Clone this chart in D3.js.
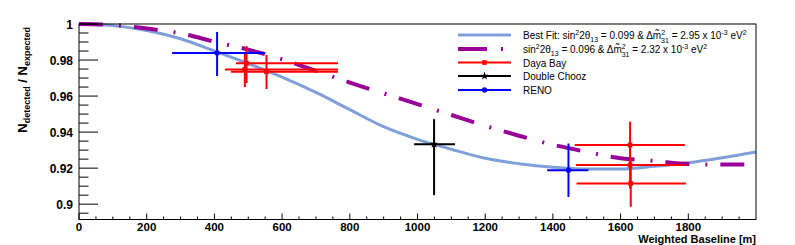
<!DOCTYPE html>
<html>
<head>
<meta charset="utf-8">
<script src="https://cdn.jsdelivr.net/npm/d3@7"></script>
<style>
  body { margin: 0; background: #fff; }
  svg { font-family: "Liberation Sans", Arial, sans-serif; }
</style>
</head>
<body>
<svg id="chart" width="795" height="245"></svg>
<script>
// Curves (baseline in m, ratio)
const curveBaseline = [0, 100, 200, 300, 400, 500, 600, 700, 800, 900, 1000,
  1100, 1200, 1300, 1400, 1500, 1600, 1700, 1800, 1900, 2000];
const bestFitRatio = [1.0, 0.9991, 0.9964, 0.9918, 0.985, 0.978, 0.9705, 0.962,
  0.9525, 0.943, 0.936, 0.9305, 0.9255, 0.9225, 0.9205, 0.9195, 0.9195, 0.921,
  0.923, 0.9258, 0.929];
const altFitRatio = [1.0, 0.9995, 0.9975, 0.9948, 0.9902, 0.9858, 0.9804, 0.974,
  0.9675, 0.9615, 0.9555, 0.9495, 0.9435, 0.938, 0.933, 0.929, 0.9255, 0.924,
  0.9223, 0.922, 0.922];

// Daya Bay
const dybBaseline = [495, 490, 554, 1628, 1628, 1630];
const dybBaselineLo = [464, 431, 449, 1465, 1468, 1470];
const dybBaselineHi = [765, 765, 765, 1790, 1790, 1793];
const dybRatio = [0.9782, 0.9748, 0.9735, 0.9328, 0.9217, 0.9115];
const dybRatioLo = [0.9672, 0.965, 0.9639, 0.9198, 0.9087, 0.8985];
const dybRatioHi = [0.9878, 0.9844, 0.9828, 0.9458, 0.9347, 0.9245];

// Double Chooz
const dcBaseline = [1049];
const dcBaselineLo = [990];
const dcBaselineHi = [1111];
const dcRatio = [0.9333];
const dcRatioLo = [0.905];
const dcRatioHi = [0.9472];

// RENO
const renoBaseline = [408, 1446];
const renoBaselineLo = [275, 1383];
const renoBaselineHi = [550, 1505];
const renoRatio = [0.9839, 0.9189];
const renoRatioLo = [0.9711, 0.904];
const renoRatioHi = [0.9956, 0.9337];

const xTicks = [0, 200, 400, 600, 800, 1000, 1200, 1400, 1600, 1800];
const yTicks = [0.9, 0.92, 0.94, 0.96, 0.98, 1];

const svg = d3.select('#chart');
const plot = {left: 79, right: 756, top: 24, bottom: 219.5};

const x = d3.scaleLinear().domain([0, 2000]).range([plot.left, plot.right]);
const y = d3.scaleLinear().domain([0.8915, 1]).range([plot.bottom, plot.top]);

const colors = {
  fit: '#7f9fdb',
  alt: '#990099',
  dyb: '#ff0000',
  dc: '#000000',
  reno: '#0000ff',
};

// Clip for curves
svg.append('clipPath').attr('id', 'clip')
  .append('rect')
  .attr('x', plot.left).attr('y', plot.top - 2)
  .attr('width', plot.right - plot.left).attr('height', plot.bottom - plot.top + 2);

const line = d3.line()
  .x((d) => x(d[0]))
  .y((d) => y(d[1]))
  .curve(d3.curveMonotoneX);

const curves = svg.append('g').attr('clip-path', 'url(#clip)');
curves.append('path')
  .datum(d3.zip(curveBaseline, bestFitRatio))
  .attr('d', line)
  .attr('fill', 'none')
  .attr('stroke', colors.fit)
  .attr('stroke-width', 3);

curves.append('path')
  .datum(d3.zip(curveBaseline, altFitRatio))
  .attr('d', line)
  .attr('fill', 'none')
  .attr('stroke', colors.alt)
  .attr('stroke-width', 4)
  .attr('stroke-dasharray', '24,16,2,13');

// Error bars
function drawPoints(color, bl, blLo, blHi, r, rLo, rHi, marker) {
  const g = svg.append('g');
  const pts = bl.map((d, i) => ({l: d, lLo: blLo[i], lHi: blHi[i], r: r[i], rLo: rLo[i], rHi: rHi[i]}));
  g.selectAll('.h').data(pts).enter().append('line')
    .attr('x1', (d) => x(d.lLo)).attr('x2', (d) => x(d.lHi))
    .attr('y1', (d) => y(d.r)).attr('y2', (d) => y(d.r))
    .attr('stroke', color).attr('stroke-width', 2);
  g.selectAll('.v').data(pts).enter().append('line')
    .attr('x1', (d) => x(d.l)).attr('x2', (d) => x(d.l))
    .attr('y1', (d) => y(d.rLo)).attr('y2', (d) => y(d.rHi))
    .attr('stroke', color).attr('stroke-width', 2);
  g.selectAll('.m').data(pts).enter().append('path')
    .attr('transform', (d) => `translate(${x(d.l)},${y(d.r)})`)
    .attr('d', marker)
    .attr('fill', color);
}

const squareMarker = d3.symbol().type(d3.symbolSquare).size(22)();
const circleMarker = d3.symbol().type(d3.symbolCircle).size(22)();
const starMarker = d3.symbol().type(d3.symbolStar).size(22)();

drawPoints(colors.dyb, dybBaseline, dybBaselineLo, dybBaselineHi, dybRatio, dybRatioLo, dybRatioHi, squareMarker);
drawPoints(colors.dc, dcBaseline, dcBaselineLo, dcBaselineHi, dcRatio, dcRatioLo, dcRatioHi, starMarker);
drawPoints(colors.reno, renoBaseline, renoBaselineLo, renoBaselineHi, renoRatio, renoRatioLo, renoRatioHi, circleMarker);

// Frame
svg.append('rect')
  .attr('x', plot.left).attr('y', plot.top)
  .attr('width', plot.right - plot.left).attr('height', plot.bottom - plot.top)
  .attr('fill', 'none').attr('stroke', '#000').attr('stroke-width', 1);

// Axes (ticks inward, ROOT style)
const xAxis = svg.append('g').attr('transform', `translate(0,${plot.bottom})`);
xAxis.selectAll('.minor').data(d3.range(0, 2000, 50)).enter().append('line')
  .attr('x1', (d) => x(d)).attr('x2', (d) => x(d))
  .attr('y1', 0).attr('y2', (d) => (d % 200 === 0 ? -6 : -3))
  .attr('stroke', '#000');
xAxis.selectAll('text').data(xTicks).enter().append('text')
  .attr('x', (d) => x(d)).attr('y', 11.5)
  .attr('text-anchor', 'middle')
  .attr('font-size', 11.5).attr('font-weight', 'bold')
  .text((d) => d);

const yAxis = svg.append('g').attr('transform', `translate(${plot.left},0)`);
yAxis.selectAll('.minor').data(d3.range(0, 22)).enter().append('line')
  .attr('y1', (i) => y(0.895 + i * 0.005)).attr('y2', (i) => y(0.895 + i * 0.005))
  .attr('x1', 0).attr('x2', (i) => (i % 4 === 1 ? 19 : 9.5))
  .attr('stroke', '#000');
yAxis.selectAll('text').data(yTicks).enter().append('text')
  .attr('x', -6).attr('y', (d) => y(d) + 4.5)
  .attr('text-anchor', 'end')
  .attr('font-size', 12).attr('font-weight', 'bold')
  .text((d) => d3.format('')(d));

// Axis titles
svg.append('text')
  .attr('x', plot.right).attr('y', 243)
  .attr('text-anchor', 'end')
  .attr('font-size', 11).attr('font-weight', 'bold')
  .text('Weighted Baseline [m]');

const yTitle = svg.append('text')
  .attr('transform', `translate(27,${plot.top + 3}) rotate(-90)`)
  .attr('text-anchor', 'end')
  .attr('font-size', 13).attr('font-weight', 'bold');
yTitle.append('tspan').text('N');
yTitle.append('tspan').attr('font-size', 9).attr('dy', 3).text('detected');
yTitle.append('tspan').attr('dy', -3).text(' / N');
yTitle.append('tspan').attr('font-size', 9).attr('dy', 3).text('expected');

// Legend
const legend = svg.append('g').attr('font-size', 10);
const legendRows = [35, 49, 62.5, 76, 90];
const lx0 = 458;
const lx1 = 511;

legend.append('line')
  .attr('x1', lx0).attr('x2', lx1).attr('y1', legendRows[0]).attr('y2', legendRows[0])
  .attr('stroke', colors.fit).attr('stroke-width', 3);
legend.append('line')
  .attr('x1', lx0).attr('x2', lx1).attr('y1', legendRows[1]).attr('y2', legendRows[1])
  .attr('stroke', colors.alt).attr('stroke-width', 4)
  .attr('stroke-dasharray', '29,14,2,20');
[[colors.dyb, squareMarker], [colors.dc, starMarker], [colors.reno, circleMarker]].forEach(([c, m], i) => {
  const yy = legendRows[i + 2];
  legend.append('line')
    .attr('x1', lx0).attr('x2', lx1).attr('y1', yy).attr('y2', yy)
    .attr('stroke', c).attr('stroke-width', 2);
  legend.append('path')
    .attr('transform', `translate(${(lx0 + lx1) / 2},${yy})`)
    .attr('d', m).attr('fill', c);
});

function fitLabel(yy, prefix, s2, dm) {
  const t = legend.append('text').attr('x', 523).attr('y', yy + 4);
  t.append('tspan').text(prefix + 'sin');
  t.append('tspan').attr('font-size', 7).attr('dy', -4).text('2');
  t.append('tspan').attr('dy', 4).text('2θ');
  t.append('tspan').attr('font-size', 7).attr('dy', 3).text('13');
  t.append('tspan').attr('dy', -3).text(` = ${s2} & Δm\u0303`);
  t.append('tspan').attr('font-size', 7).attr('dy', -4.5).text('2');
  t.append('tspan').attr('font-size', 7).attr('dx', -4).attr('dy', 8).text('31');
  t.append('tspan').attr('dy', -3.5).text(` = ${dm} x 10`);
  t.append('tspan').attr('font-size', 7).attr('dy', -4).text('-3');
  t.append('tspan').attr('dy', 4).text(' eV');
  t.append('tspan').attr('font-size', 7).attr('dy', -4).text('2');
}
fitLabel(legendRows[0], 'Best Fit: ', '0.099', '2.95');
fitLabel(legendRows[1], '', '0.096', '2.32');
['Daya Bay', 'Double Chooz', 'RENO'].forEach((name, i) => {
  legend.append('text').attr('x', 523).attr('y', legendRows[i + 2] + 4).text(name);
});
</script>
</body>
</html>
